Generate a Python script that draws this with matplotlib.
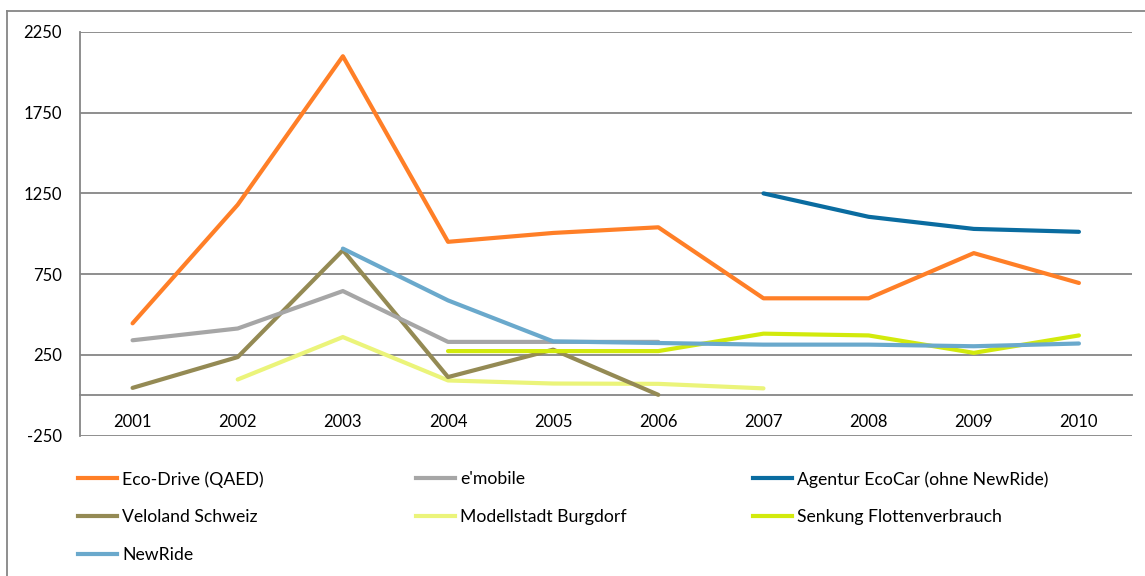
import numpy as np
import matplotlib
matplotlib.use("Agg")
import matplotlib.pyplot as plt
from matplotlib.lines import Line2D

years = ["2001", "2002", "2003", "2004", "2005", "2006", "2007", "2008", "2009", "2010"]
nan = np.nan
eco_drive = [445, 1180, 2100, 950, 1005, 1040, 600, 600, 880, 695]
emobile = [340, 413, 645, 330, 330, 330, nan, nan, nan, nan]
agentur_ecocar = [nan, nan, nan, nan, nan, nan, 1250, 1105, 1030, 1012]
veloland = [45, 236, 898, 112, 282, 2, nan, nan, nan, nan]
modellstadt = [nan, 97, 360, 91, 72, 70, 42, nan, nan, nan]
senkung = [nan, nan, nan, 273, 273, 273, 381, 370, 262, 370]
newride = [nan, nan, 908, 587, 333, 323, 313, 313, 303, 320]

series_names = ["Eco-Drive (QAED)", "e'mobile", "Agentur EcoCar (ohne NewRide)",
                "Veloland Schweiz", "Modellstadt Burgdorf", "Senkung Flottenverbrauch", "NewRide"]
series_values = [eco_drive, emobile, agentur_ecocar, veloland, modellstadt, senkung, newride]
colors = ["#FF7F27", "#A6A6A6", "#0A6CA0", "#948A54", "#EBF47A", "#D2EA0C", "#6AA9CC"]
draw_order = [4, 3, 1, 5, 6, 0, 2]

yticks = [-250, 250, 750, 1250, 1750, 2250]

plt.rcParams['font.family'] = ['Lato', 'DejaVu Sans']
W, H = 1145, 576
fig = plt.figure(figsize=(W / 100, H / 100), dpi=100)
ax = fig.add_axes([80 / W, 1 - 435.5 / H, (1131.5 - 80) / W, (435.5 - 32) / H])

x = np.arange(len(years))
for i in draw_order:
    ax.plot(x, series_values[i], color=colors[i], lw=3, solid_capstyle='round',
            solid_joinstyle='round', label=series_names[i], zorder=3)

ax.set_xlim(-0.5, len(years) - 0.5)
ax.set_ylim(-250, 2250)
ax.set_yticks(yticks)
ax.set_yticklabels([str(v) for v in yticks])
ax.yaxis.grid(True, color="#868686", lw=1.3)
ax.set_axisbelow(True)
ax.set_xticks(x)
ax.set_xticklabels(years)
ax.tick_params(axis='x', length=0, pad=13.5, labelsize=12, colors='black')
ax.tick_params(axis='y', length=0, pad=13, labelsize=12)
for s in ['top', 'right']:
    ax.spines[s].set_visible(False)
ax.spines['left'].set_color("#868686")
ax.spines['left'].set_linewidth(1.3)
ax.spines['bottom'].set_position(('data', 0))
ax.spines['bottom'].set_color("#868686")
ax.spines['bottom'].set_linewidth(1.3)

# legend in three columns
col_x = [78, 416, 753]
cols = [[0, 3, 6], [1, 4], [2, 5]]
for cx, idxs in zip(col_x, cols):
    fig.legend([Line2D([], [], color=colors[i], lw=3) for i in idxs],
               [series_names[i] for i in idxs],
               loc='upper left', bbox_to_anchor=(cx / W, 1 - 471 / H),
               frameon=False, fontsize=12.7, handlelength=2.2, handletextpad=0.3,
               labelspacing=1.24, borderaxespad=0, borderpad=0)

# outer border
fig.add_artist(Line2D([7 / W, 1.01], [1 - 11 / H, 1 - 11 / H], transform=fig.transFigure,
                      color="#868686", lw=1.3))
fig.add_artist(Line2D([7 / W, 7 / W], [1 - 11 / H, -0.01], transform=fig.transFigure,
                      color="#868686", lw=1.3))

fig.savefig("out.png", dpi=100)
